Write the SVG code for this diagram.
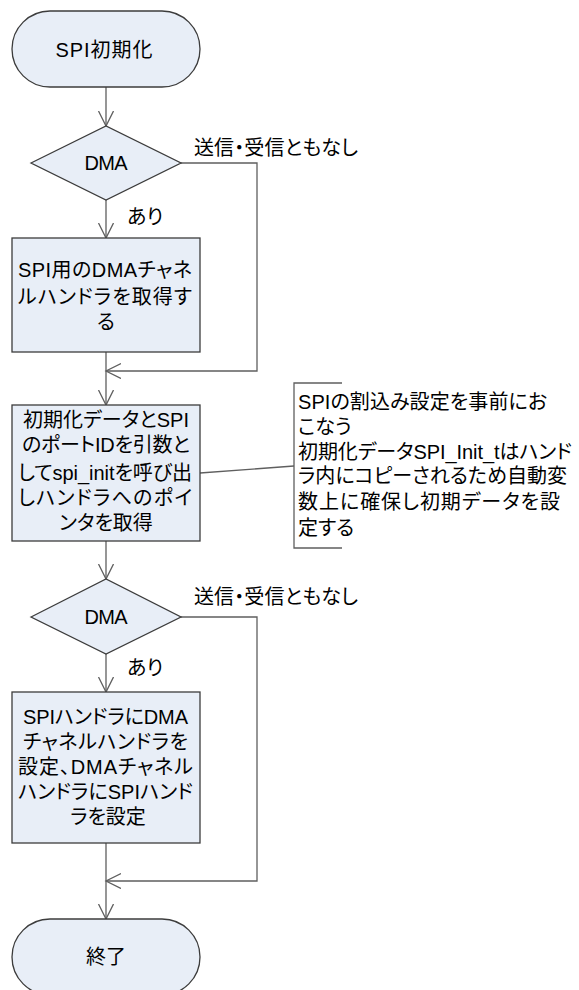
<svg xmlns="http://www.w3.org/2000/svg" width="579" height="990" viewBox="0 0 579 990">
<style>
.shape{fill:#E8EEF7;stroke:#3C3C3C;stroke-width:1.3}
.conn{fill:none;stroke:#5F5F5F;stroke-width:1.3}
text{font-family:"Liberation Sans","Noto Sans CJK JP",sans-serif;font-size:20px;fill:#000;font-feature-settings:"palt" 1}
.c{text-anchor:middle}
</style>
<defs>
<marker id="arr" markerUnits="userSpaceOnUse" markerWidth="18" markerHeight="18" refX="15" refY="7.5" orient="auto">
<path d="M0,0 L15,7.5 L0,15" fill="none" stroke="#5F5F5F" stroke-width="1.3"/>
</marker>
</defs>
<rect width="579" height="990" fill="#FFFFFF"/>
<g id="connectors">
<path class="conn" d="M106,87 V126" marker-end="url(#arr)"/>
<path class="conn" d="M106,200 V238" marker-end="url(#arr)"/>
<path class="conn" d="M181,163 H257 V371 H106" marker-end="url(#arr)"/>
<path class="conn" d="M106,352 V405" marker-end="url(#arr)"/>
<path class="conn" d="M106,541 V579" marker-end="url(#arr)"/>
<path class="conn" d="M106,654 V692" marker-end="url(#arr)"/>
<path class="conn" d="M181,617 H257 V881 H106" marker-end="url(#arr)"/>
<path class="conn" d="M106,843 V919" marker-end="url(#arr)"/>
<path class="conn" d="M200,473 L294,466"/>
<text x="194" y="155" textLength="164">送信・受信ともなし</text>
<text x="127" y="224">あり</text>
<text x="194" y="604" textLength="164">送信・受信ともなし</text>
<text x="127" y="675">あり</text>
</g>
<g id="start">
<rect class="shape" x="12" y="11" width="188" height="76" rx="38" ry="38"/>
<text class="c" x="104" y="57" textLength="97">SPI初期化</text>
</g>
<g id="decision1">
<polygon class="shape" points="31,163 106,126 181,163 106,200"/>
<text class="c" x="106" y="170" textLength="43">DMA</text>
</g>
<g id="get-dma">
<rect class="shape" x="12" y="238" width="188" height="114"/>
<text class="c" x="105" y="277" textLength="174">SPI用のDMAチャネ</text>
<text class="c" x="105" y="304" textLength="174">ルハンドラを取得す</text>
<text class="c" x="106" y="329">る</text>
</g>
<g id="spi-init">
<rect class="shape" x="12" y="405" width="188" height="136"/>
<text class="c" x="106" y="427" textLength="166">初期化データとSPI</text>
<text class="c" x="106" y="452" textLength="168">のポートIDを引数と</text>
<text class="c" x="105" y="480" textLength="174">してspi_initを呼び出</text>
<text class="c" x="105" y="505" textLength="174">しハンドラへのポイ</text>
<text class="c" x="106" y="530">ンタを取得</text>
</g>
<g id="note">
<path class="conn" d="M342,383 H294 V548 H342"/>
<text x="298" y="409" textLength="249">SPIの割込み設定を事前にお</text>
<text x="298" y="434">こなう</text>
<text x="298" y="459" textLength="274">初期化データSPI_Init_tはハンド</text>
<text x="298" y="483" textLength="269">ラ内にコピーされるため自動変</text>
<text x="298" y="509" textLength="262">数上に確保し初期データを設</text>
<text x="298" y="535">定する</text>
</g>
<g id="decision2">
<polygon class="shape" points="31,617 106,579 181,617 106,654"/>
<text class="c" x="106" y="624" textLength="43">DMA</text>
</g>
<g id="set-handlers">
<rect class="shape" x="12" y="692" width="188" height="151"/>
<text class="c" x="105.5" y="724" textLength="165">SPIハンドラにDMA</text>
<text class="c" x="105.5" y="749" textLength="165">チャネルハンドラを</text>
<text class="c" x="105.5" y="774" textLength="175">設定、DMAチャネル</text>
<text class="c" x="105.5" y="799" textLength="175">ハンドラにSPIハンド</text>
<text class="c" x="108" y="824">ラを設定</text>
</g>
<g id="end">
<rect class="shape" x="12" y="919" width="188" height="76" rx="38" ry="38"/>
<text class="c" x="106" y="964">終了</text>
</g>
</svg>
